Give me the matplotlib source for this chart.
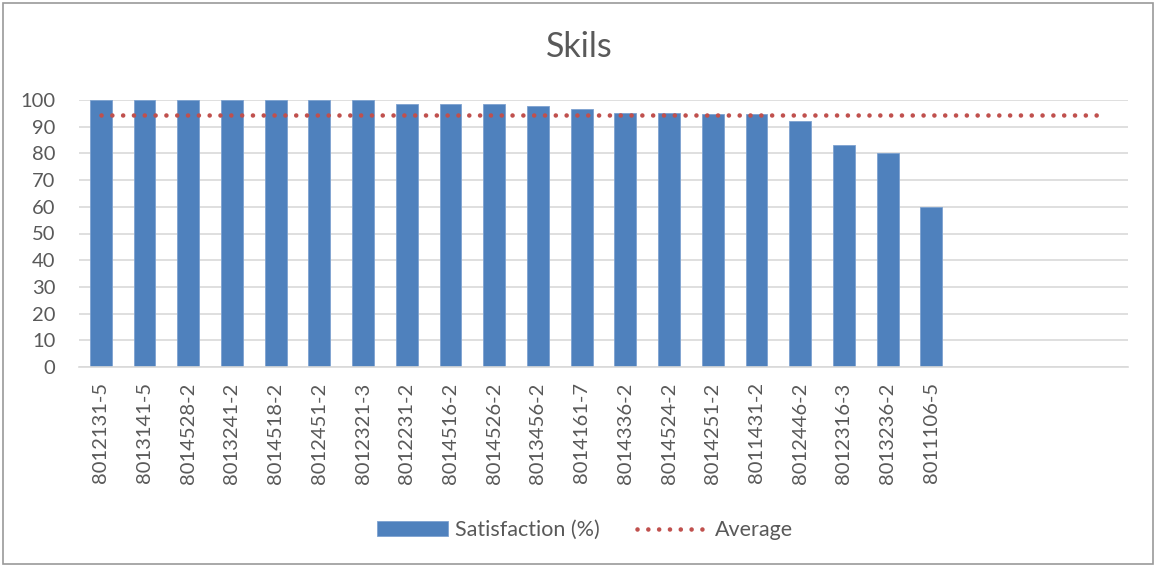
import matplotlib
matplotlib.use("Agg")
import matplotlib.pyplot as plt
from matplotlib.patches import Rectangle

categories = ["8012131-5", "8013141-5", "8014528-2", "8013241-2", "8014518-2",
              "8012451-2", "8012321-3", "8012231-2", "8014516-2", "8014526-2",
              "8013456-2", "8014161-7", "8014336-2", "8014524-2", "8014251-2",
              "8011431-2", "8012446-2", "8012316-3", "8013236-2", "8011106-5",
              "", "", "", ""]
satisfaction = [100, 100, 100, 100, 100, 100, 100, 98.5, 98.5, 98.5,
                97.9, 96.5, 95.3, 95.3, 94.9, 94.8, 92.1, 83.1, 80, 60]
average = [94.4] * 24
yticks = [0, 10, 20, 30, 40, 50, 60, 70, 80, 90, 100]

TXT = "#595959"
plt.rcParams['font.family'] = ['Lato', 'DejaVu Sans']

W, H = 1157, 567
fig = plt.figure(figsize=(W / 100, H / 100), dpi=100)
ax = fig.add_axes([79 / W, 1 - 367 / H, (1128 - 79) / W, (367 - 100) / H])

x = list(range(len(categories)))
bars = ax.bar(x[:len(satisfaction)], satisfaction, width=0.5, color="#4f81bd",
              edgecolor="#7ea2d0", linewidth=0.6, label="Satisfaction (%)", zorder=2)
line, = ax.plot(x, average, color="#c0504d", linewidth=3.3,
                linestyle=(0, (0.01, 2.35)), dash_capstyle="round",
                label="Average", zorder=3)

ax.set_xlim(-0.5, len(categories) - 0.5)
ax.set_ylim(0, 100)
ax.set_yticks(yticks)
ax.set_xticks(x)
ax.set_xticklabels(categories, rotation=90)
ax.tick_params(axis='both', length=0, labelsize=14.5, labelcolor=TXT)
ax.tick_params(axis='y', pad=17)
ax.tick_params(axis='x', pad=11)
ax.grid(axis='y', color="#d9d9d9", linewidth=1.2, zorder=0)
ax.set_axisbelow(True)
for s in ['top', 'right', 'left']:
    ax.spines[s].set_visible(False)
ax.spines['bottom'].set_color("#d9d9d9")
ax.spines['bottom'].set_linewidth(1.2)

fig.text(579 / W, 1 - 47 / H, "Skils", ha='center', va='center',
         fontsize=24.5, color=TXT)

leg = fig.legend(handles=[bars, line], labels=["Satisfaction (%)", "Average"],
                 loc='center', bbox_to_anchor=(585 / W, 1 - 530 / H), ncol=2,
                 frameon=False, fontsize=15.5, handlelength=3.3,
                 handleheight=0.65, handletextpad=0.35, columnspacing=1.7)
for t in leg.get_texts():
    t.set_color(TXT)

fig.patches.append(Rectangle((2.5 / W, 3 / H), (1153 - 2.5) / W, (564 - 3) / H,
                             transform=fig.transFigure, fill=False,
                             edgecolor="#9a9a9a", linewidth=1.2))

fig.savefig("out.png", dpi=100, facecolor="white")
